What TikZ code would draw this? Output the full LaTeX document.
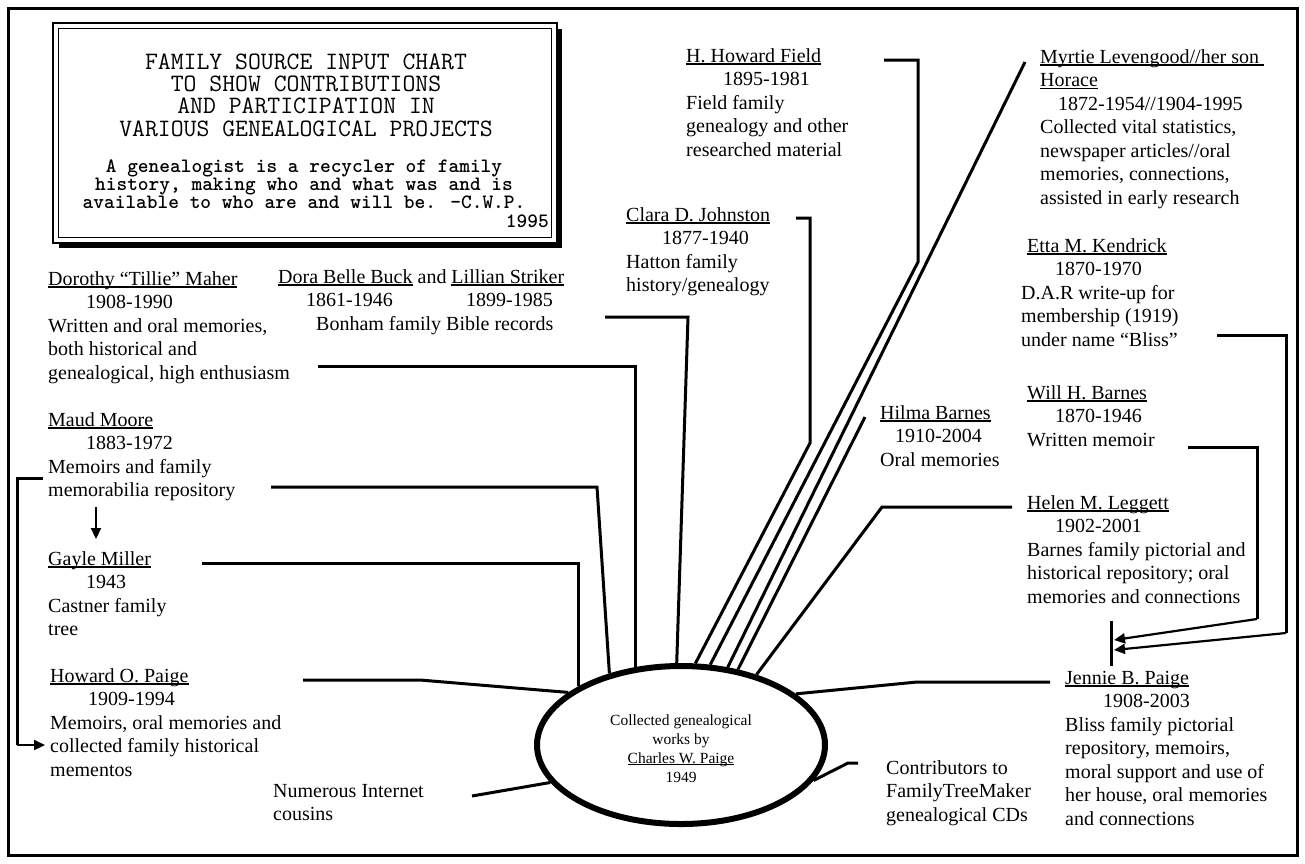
\documentclass[tikz,border=0pt]{standalone}
\usepackage{fontspec}
\setmainfont{Liberation Serif}
\usetikzlibrary{shapes.geometric,arrows.meta}
\newcommand\uln[1]{\setbox0=\hbox{#1}\rlap{\rule[-2.6pt]{\wd0}{1.3pt}}\box0\relax}
\newcommand\ulnsmall[1]{\setbox0=\hbox{#1}\rlap{\rule[-2.2pt]{\wd0}{1pt}}\box0\relax}
\newcommand\blk[1]{\begin{tabular}[t]{@{}l@{}}#1\end{tabular}}
\newcommand\cblk[1]{\begin{tabular}[t]{@{}c@{}}#1\end{tabular}}
\tikzset{
  txt/.style={anchor=base west, inner sep=0pt, font=\fontsize{20}{23.5}\selectfont},
  link/.style={draw, line width=3pt},
  arr/.style={draw, line width=2.2pt, -{Triangle[length=11pt,width=10pt]}},
}
\begin{document}
\begin{tikzpicture}[x=1pt,y=-1pt]
\useasboundingbox (0,0) rectangle (1305,863);
\fill[white] (0,0) rectangle (1305,863);
% outer frame
\draw[line width=3pt] (8,8) rectangle (1297,855);

% title box
\fill[black] (59,29) rectangle (562,248);
\draw[line width=2.5pt, fill=white] (53,23) rectangle (557,243);
\draw[line width=1.2pt] (58.5,28.5) rectangle (551.5,237.5);
\node[anchor=base, inner sep=0pt, font=\ttfamily\fontsize{25}{22}\selectfont] (title) at (306,69.5)
  {\cblk{FAMILY SOURCE INPUT CHART\\ TO SHOW CONTRIBUTIONS\\ AND PARTICIPATION IN\\ VARIOUS GENEALOGICAL PROJECTS}};
\node[anchor=base, inner sep=0pt, font=\ttfamily\bfseries\fontsize{20.4}{18}\selectfont] (quote) at (304,172)
  {\cblk{A genealogist is a recycler of family\\ history, making who and what was and is\\ available to who are and will be. -C.W.P.}};
\node[anchor=base east, inner sep=0pt, font=\ttfamily\bfseries\fontsize{20.4}{18}\selectfont] (qyear) at (549,227) {1995};

% text blocks
\node[txt] (dorothy) at (48,285) {\blk{\uln{Dorothy “Tillie” Maher}\\ \hspace*{38pt}1908-1990\\ Written and oral memories,\\ both historical and\\ genealogical, high enthusiasm}};
\node[txt] (maud) at (48,426) {\blk{\uln{Maud Moore}\\ \hspace*{38pt}1883-1972\\ Memoirs and family\\ memorabilia repository}};
\node[txt] (gayle) at (48,565) {\blk{\uln{Gayle Miller}\\ \hspace*{38pt}1943\\ Castner family\\ tree}};
\node[txt] (howard) at (50,682) {\blk{\uln{Howard O. Paige}\\ \hspace*{38pt}1909-1994\\ Memoirs, oral memories and\\ collected family historical\\ mementos}};
\node[txt] (numerous) at (273,797) {\blk{Numerous Internet\\ cousins}};
\node[txt] (dora) at (278,283) {\blk{\uln{Dora Belle Buck} and \uln{Lillian Striker}\\ \hspace*{28pt}1861-1946\\ \hspace*{38pt}Bonham family Bible records}};
\node[txt] (lillian) at (466,306.5) {1899-1985};
\node[txt] (clara) at (626,221) {\blk{\uln{Clara D. Johnston}\\ \hspace*{36pt}1877-1940\\ Hatton family\\ history/genealogy}};
\node[txt] (field) at (686,62) {\blk{\uln{H. Howard Field}\\ \hspace*{37pt}1895-1981\\ Field family\\ genealogy and other\\ researched material}};
\node[txt] (myrtie) at (1040,63) {\blk{\uln{Myrtie Levengood//her son\ }\\ \uln{Horace}\\ \hspace*{18pt}1872-1954//1904-1995\\ Collected vital statistics,\\ newspaper articles//oral\\ memories, connections,\\ assisted in early research}};
\node[txt] (etta) at (1021,252) {\blk{\hspace*{6pt}\uln{Etta M. Kendrick}\\ \hspace*{34pt}1870-1970\\ D.A.R write-up for\\ membership (1919)\\ under name “Bliss”}};
\node[txt] (will) at (1027,399) {\blk{\uln{Will H. Barnes}\\ \hspace*{28pt}1870-1946\\ Written memoir}};
\node[txt] (hilma) at (880,419) {\blk{\uln{Hilma Barnes}\\ \hspace*{15pt}1910-2004\\ Oral memories}};
\node[txt] (helen) at (1027,509) {\blk{\uln{Helen M. Leggett}\\ \hspace*{28pt}1902-2001\\ Barnes family pictorial and\\ historical repository; oral\\ memories and connections}};
\node[txt] (jennie) at (1065,684) {\blk{\uln{Jennie B. Paige}\\ \hspace*{38pt}1908-2003\\ Bliss family pictorial\\ repository, memoirs,\\ moral support and use of\\ her house, oral memories\\ and connections}};
\node[txt] (contrib) at (886,774) {\blk{Contributors to\\ FamilyTreeMaker\\ genealogical CDs}};

% centre
\node[ellipse, draw, line width=4pt, fill=white, minimum width=290pt, minimum height=160pt, inner sep=0pt] (c) at (681,745) {};
\node[anchor=base, inner sep=0pt, font=\fontsize{15.5}{19}\selectfont] (ctext) at (681,725)
  {\cblk{Collected genealogical\\ works by\\ \ulnsmall{Charles W. Paige}\\ 1949}};

% connector coordinates
\coordinate (dor1) at (318,366);
\coordinate (dora1) at (605,317);
\coordinate (dora2) at (688,317);
\coordinate (maud1) at (271,487);
\coordinate (maud2) at (597,487);
\coordinate (gay1) at (202,563);
\coordinate (how1) at (303,680);
\coordinate (how2) at (420,680);
\coordinate (num1) at (472,796);
\coordinate (cla1) at (796,218);
\coordinate (cla2) at (810,218);
\coordinate (cla3) at (810,443);
\coordinate (fie1) at (884,60);
\coordinate (fie2) at (918,60);
\coordinate (fie3) at (918,262);
\coordinate (myr1) at (1025,62);
\coordinate (hil1) at (865,417);
\coordinate (hel1) at (1012,507);
\coordinate (hel2) at (882,507);
\coordinate (jen1) at (1050,682);
\coordinate (jen2) at (917,682);
\coordinate (con1) at (858,763);
\coordinate (con2) at (848,763);
\coordinate (ett1) at (1217,335);
\coordinate (ett2) at (1286,335);
\coordinate (ett3) at (1286,633);
\coordinate (ett4) at (1114,650);
\coordinate (wil1) at (1188,447);
\coordinate (wil2) at (1257,447);
\coordinate (wil3) at (1257,619);
\coordinate (wil4) at (1114,640);
\coordinate (bar1) at (1111,621);
\coordinate (bar2) at (1111,666);
\coordinate (mm1) at (96,507);
\coordinate (mm2) at (96,539);
\coordinate (br1) at (43,478);
\coordinate (br2) at (17,478);
\coordinate (br3) at (17,745);
\coordinate (br4) at (45,745);

% connectors to centre
\draw[link] (dor1) -| (c.120);
\draw[link] (dora1) -- (dora2) -- (c.93);
\draw[link] (maud1) -- (maud2) -- (c.135);
\draw[link] (gay1) -| (c.150);
\draw[link] (how1) -- (how2) -- (c.155);
\draw[link] (num1) -- (c.196);
\draw[link] (cla1) -- (cla2) -- (cla3) -- (c.80);
\draw[link] (fie1) -- (fie2) -- (fie3) -- (c.70);
\draw[link] (myr1) -- (c.59);
\draw[link] (hil1) -- (c.53);
\draw[link] (hel1) -- (hel2) -- (c.43);
\draw[link] (jen1) -- (jen2) -- (c.24);
\draw[link] (con1) -- (con2) -- (c.-15);

% arrows into Jennie
\draw[line width=3pt] (bar1) -- (bar2);
\draw[link] (ett1) -- (ett2) -- (ett3);
\draw[arr] (ett3) -- (ett4);
\draw[link] (wil1) -- (wil2) -- (wil3);
\draw[arr] (wil3) -- (wil4);

% Maud -> Gayle, Maud -> Howard
\draw[arr] (mm1) -- (mm2);
\draw[link] (br1) -- (br2) -- (br3);
\draw[arr] (br3) -- (br4);

% redraw ellipse border on top
\draw[line width=4pt] (c.center) ellipse [x radius=143pt, y radius=78pt];
\end{tikzpicture}
\end{document}
